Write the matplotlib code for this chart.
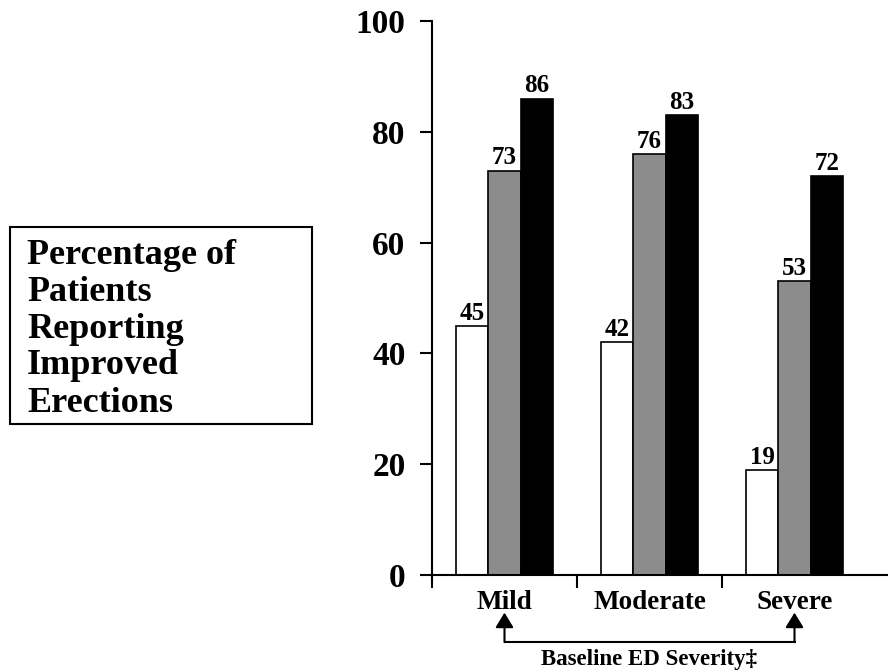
import matplotlib
matplotlib.use("Agg")
import matplotlib.pyplot as plt
import matplotlib.transforms as mtransforms
import numpy as np

categories = ["Mild", "Moderate", "Severe"]
white_vals = [45, 42, 19]
gray_vals = [73, 76, 53]
black_vals = [86, 83, 72]
yticks = [0, 20, 40, 60, 80, 100]
box_lines = ["Percentage of", "Patients", "Reporting", "Improved", "Erections"]
xlabel = "Baseline ED Severity\u2021"

plt.rcParams['font.family'] = ['Liberation Serif', 'DejaVu Serif']
plt.rcParams['font.weight'] = 'bold'

fig = plt.figure(figsize=(8.88, 6.70), dpi=100)
ax = fig.add_axes([432/888, 1-575/670, 1-432/888, 554/670])

centers = np.arange(len(categories)) + 0.5
w = 0.222
series = [(white_vals, 'white'), (gray_vals, '#8c8c8c'), (black_vals, 'black')]
for i, (vals, col) in enumerate(series):
    xs = centers + (i - 1) * w
    ax.bar(xs, vals, width=w, color=col, edgecolor='black', linewidth=1.2)
    for x, v in zip(xs, vals):
        ax.text(x, v + 0.2, str(v), ha='center', va='bottom', fontsize=18, fontweight='bold')

ax.set_xlim(0, 456/145)
ax.set_ylim(0, 100)
for s in ['top', 'right']:
    ax.spines[s].set_visible(False)
ax.spines['left'].set_linewidth(1.5)
ax.spines['bottom'].set_linewidth(1.5)
ax.set_yticks(yticks)
ax.set_yticklabels([str(t) for t in yticks], fontsize=24, fontweight='bold')
ax.tick_params(axis='y', direction='out', length=9, width=1.5, pad=10)
ax.set_xticks([0, 1, 2])
ax.set_xticklabels(['', '', ''])
ax.tick_params(axis='x', which='major', direction='out', length=9, width=1.5)
ax.set_xticks(centers, minor=True)
ax.set_xticklabels(categories, minor=True, fontsize=19.5, fontweight='bold')
ax.tick_params(axis='x', which='minor', length=0, pad=11)

trans = mtransforms.blended_transform_factory(ax.transData, ax.transAxes)
y_line = -0.121
y_tip = -0.068
x0, x1 = centers[0], centers[-1]
ax.plot([x0, x1], [y_line, y_line], color='black', lw=1.5, transform=trans, clip_on=False)
for xa in (x0, x1):
    ax.annotate('', xy=(xa, y_tip), xytext=(xa, y_line), xycoords=trans, textcoords=trans,
                arrowprops=dict(arrowstyle='-|>,head_length=0.9,head_width=0.55', color='black', lw=1.5,
                                shrinkA=0, shrinkB=0), annotation_clip=False)
ax.text((x0 + x1) / 2, -0.153, xlabel, transform=trans, ha='center', va='center',
        fontsize=16.5, fontweight='bold')

# text box
fig.patches.append(plt.Rectangle((10/888, 1-424/670), 302/888, 197/670, transform=fig.transFigure,
                                 facecolor='white', edgecolor='black', linewidth=1.5))
for k, line in enumerate(box_lines):
    fig.text(27/888, 1-(255 + k*37)/670, line, ha='left', va='center', fontsize=26, fontweight='bold')

fig.savefig('out.png', dpi=100)
